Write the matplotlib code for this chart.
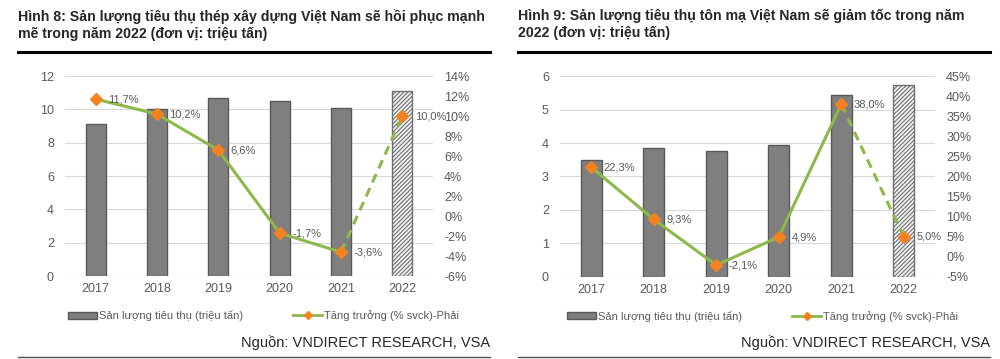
import numpy as np
import matplotlib
matplotlib.use("Agg")
import matplotlib.pyplot as plt
from matplotlib.patches import Patch
from matplotlib.lines import Line2D

plt.rcParams['font.family'] = ['Liberation Sans', 'DejaVu Sans']
plt.rcParams['hatch.linewidth'] = 0.8

years = ['2017', '2018', '2019', '2020', '2021', '2022']

steel_volume = [9.1, 10.0, 10.7, 10.5, 10.1, 11.1]
steel_growth = [11.7, 10.2, 6.6, -1.7, -3.6, 10.0]

coated_volume = [3.5, 3.85, 3.77, 3.93, 5.43, 5.72]
coated_growth = [22.3, 9.3, -2.1, 4.9, 38.0, 5.0]

title_left = "Hình 8: Sản lượng tiêu thụ thép xây dựng Việt Nam sẽ hồi phục mạnh\nmẽ trong năm 2022 (đơn vị: triệu tấn)"
title_right = "Hình 9: Sản lượng tiêu thụ tôn mạ Việt Nam sẽ giảm tốc trong năm\n2022 (đơn vị: triệu tấn)"
legend_labels = ['Sản lượng tiêu thụ (triệu tấn)', 'Tăng trưởng (% svck)-Phải']
source = "Nguồn: VNDIRECT RESEARCH, VSA"

BAR = '#7f7f7f'
BAR_EDGE = '#595959'
GREEN = '#8db84a'
ORANGE = '#f58220'
TXT = '#595959'


def draw_panel(fig, rect, volume, growth, ylim, yticks, y2lim, y2ticks):
    ax = fig.add_axes(rect)
    x = np.arange(len(years))
    for i, v in enumerate(volume):
        if i == len(volume) - 1:
            # forecast year: hatched bar
            ax.bar(x[i], v, width=0.33, facecolor='#f2f2f2', edgecolor='#6f6f6f',
                   hatch='////////', linewidth=1.0, zorder=2)
        else:
            ax.bar(x[i], v, width=0.33, facecolor=BAR, edgecolor=BAR_EDGE,
                   linewidth=1.0, zorder=2)
    ax.set_xlim(-0.5, len(years) - 0.5)
    ax.set_ylim(*ylim)
    ax.set_yticks(yticks)
    ax.set_xticks(x)
    ax.set_xticklabels(years)
    ax.grid(axis='y', color='#d9d9d9', linewidth=0.8, zorder=0)
    ax.set_axisbelow(True)
    for s in ax.spines.values():
        s.set_visible(False)
    ax.tick_params(length=0, labelsize=9, colors=TXT, pad=8)
    ax.tick_params(axis='x', pad=5)

    ax2 = ax.twinx()
    ax2.set_ylim(*y2lim)
    ax2.set_yticks(y2ticks)
    ax2.set_yticklabels([f"{t}%" for t in y2ticks])
    for s in ax2.spines.values():
        s.set_visible(False)
    ax2.tick_params(length=0, labelsize=9, colors=TXT, pad=8)

    ax2.plot(x[:-1], growth[:-1], color=GREEN, linewidth=2.2, zorder=3)
    ax2.plot(x[-2:], growth[-2:], color=GREEN, linewidth=2.2, linestyle=(0, (3, 2)), zorder=3)
    ax2.plot(x, growth, linestyle='none', marker='D', markersize=6.5,
             color=ORANGE, zorder=4)
    for xi, g in zip(x, growth):
        ax2.annotate(f"{g:.1f}".replace('.', ',') + '%', (xi, g),
                     xytext=(9, 0), textcoords='offset points',
                     ha='left', va='center', fontsize=8, color=TXT, zorder=5)

    handles = [Patch(facecolor=BAR, edgecolor=BAR_EDGE),
               Line2D([0], [0], color=GREEN, linewidth=2, marker='D',
                      markersize=4, markerfacecolor=ORANGE, markeredgecolor=ORANGE)]
    ax.legend(handles, legend_labels, loc='upper center',
              bbox_to_anchor=(0.54, -0.12), ncol=2, frameon=False,
              fontsize=8, labelcolor=TXT, handlelength=2.6, handleheight=0.6,
              handletextpad=0.2, columnspacing=4.5)
    return ax


fig = plt.figure(figsize=(10, 3.59), dpi=100)

draw_panel(fig, [0.065, 0.231, 0.368, 0.557], steel_volume, steel_growth,
           (0, 12), range(0, 13, 2), (-6, 14), list(range(-6, 15, 2)))
draw_panel(fig, [0.56, 0.229, 0.375, 0.559], coated_volume, coated_growth,
           (0, 6), range(0, 7, 1), (-5, 45), list(range(-5, 46, 5)))

fig.text(0.018, 0.975, title_left, ha='left', va='top', fontsize=10.2,
         fontweight='bold', color='#262626', linespacing=1.3)
fig.text(0.518, 0.975, title_right, ha='left', va='top', fontsize=10.2,
         fontweight='bold', color='#262626', linespacing=1.3)

for x0, x1 in [(0.018, 0.49), (0.518, 0.99)]:
    fig.add_artist(Line2D([x0, x1], [0.855, 0.855], color='black', linewidth=2.2))
    fig.add_artist(Line2D([x0, x1], [0.006, 0.006], color='#505050', linewidth=1.0))

fig.text(0.49, 0.047, source, ha='right', va='center', fontsize=10.5, color='#262626')
fig.text(0.99, 0.047, source, ha='right', va='center', fontsize=10.5, color='#262626')

fig.savefig('out.png', dpi=100)
